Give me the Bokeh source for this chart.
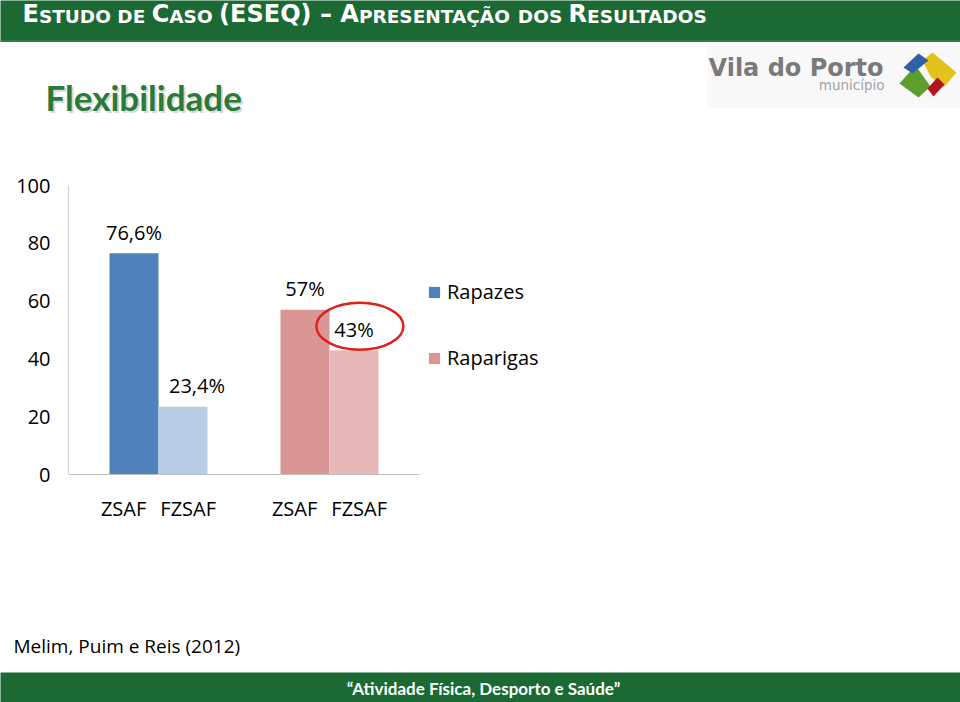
from bokeh.plotting import figure
from bokeh.layouts import column
from bokeh.models import (FactorRange, Range1d, Legend, LegendItem, ColumnDataSource, FixedTicker)
from bokeh.core.properties import value
from bokeh.embed import file_html
from bokeh.resources import INLINE

# ---------------- data ----------------
groups = ["Rapazes", "Raparigas"]
subcats = ["ZSAF", "FZSAF"]
rapazes = [76.6, 23.4]
raparigas = [57, 43]
y_ticks = [0, 20, 40, 60, 80, 100]
highlight = ("Raparigas", "FZSAF")

header_parts = ["E", "STUDO", "DE", "C", "ASO", "(ESEQ)", "\u2013", "A",
                "PRESENTA\u00c7\u00c3O", "DOS", "R", "ESULTADOS"]
title_text = "Flexibilidade"
source_text = "Melim, Puim e Reis (2012)"
footer_text = "\u201cAtividade F\u00edsica, Desporto e Sa\u00fade\u201d"
logo_name = "Vila do Porto"
logo_sub = "munic\u00edpio"

# ---------------- styles ----------------
GREEN = "#1b6a33"
blue_colors = ["#4f81bd", "#b9cde5"]
pink_colors = ["#d99694", "#e6b9b8"]
FONT = "Open Sans"
W = 960
BASE_FIX = 0.42   # text glyph alphabetic baseline correction (em)
NB = "\u00a0"
# label padding so the pair reads "ZSAF  FZSAF" like the original category labels
label_pad = {"ZSAF": ("", NB * 4), "FZSAF": (NB * 2, "")}


def fmt(v):
    return ("%g" % v).replace(".", ",") + "%"


def disp(s):
    a, b = label_pad.get(s, ("", ""))
    return a + s + b


def deco(h, bg="white"):
    f = figure(width=W, height=h, x_range=Range1d(0, W), y_range=Range1d(h, 0),
               output_backend="svg", toolbar_location=None, min_border=0,
               x_axis_type=None, y_axis_type=None)
    f.frame_align = False
    f.background_fill_color = bg
    f.border_fill_color = bg
    f.outline_line_color = None
    f.grid.visible = False
    return f


def txt(f, x, y, s, size, color="black", bold=False, align="left", alpha=1.0, font=FONT):
    f.text(x=[x], y=[y - BASE_FIX * size], text=[s], text_font=value(font),
           text_font_size="%gpx" % size,
           text_font_style="bold" if bold else "normal", text_color=color,
           text_alpha=alpha, text_align=align, text_baseline="alphabetic")


# ---------------- header (y 0-42) ----------------
hdr = deco(42, GREEN)
BIG, SMALL = 24, 18.5
hdr_x = [22, 38.4, 116.8, 151.2, 168.8, 218.6, 319.4, 339.8, 358.4, 517.3, 568.1, 586.6]
hdr_size = [BIG, SMALL, SMALL, BIG, SMALL, BIG, BIG, BIG, SMALL, SMALL, BIG, SMALL]
for s, x, sz in zip(header_parts, hdr_x, hdr_size):
    txt(hdr, x, 24, s, sz, "white", bold=True, font="DejaVu Sans")
hdr.segment(x0=[0], x1=[W], y0=[40.5], y1=[40.5], line_color="#4d8a5e", line_width=1)

# ---------------- title + logo (y 42-160) ----------------
top = deco(118)
Y0 = 42
txt(top, 47, 113 - Y0, title_text, 35, "#9a9a9a", bold=True, alpha=0.4, font="Lato")
txt(top, 45, 111 - Y0, title_text, 35, "#2a7b3b", bold=True, font="Lato")
top.quad(left=[707], right=[960], top=[45 - Y0], bottom=[107 - Y0],
         fill_color="#f8f8f8", line_color=None)
txt(top, 708, 78 - Y0, logo_name, 24, "#7a7a7a", bold=True, font="DejaVu Sans")
txt(top, 884, 90 - Y0, logo_sub, 13.5, "#a3a3a3", align="right", font="DejaVu Sans")
icon_shapes = [
    ([922, 932, 956, 943, 930], [60, 52, 72, 87, 76], "#e2c21c"),   # yellow
    ([899, 915, 930, 918], [83, 65, 86, 97], "#5e9e2c"),            # green
    ([903, 918, 928, 912], [67, 53, 60, 73], "#2f60a8"),            # blue
    ([927, 937, 944, 933], [88, 77, 84, 96], "#b0151c"),            # red
]
top.patches(xs=[s[0] for s in icon_shapes], ys=[[y - Y0 for y in s[1]] for s in icon_shapes],
            fill_color=[s[2] for s in icon_shapes], line_color=None)

# ---------------- chart (y 160-560) ----------------
CH = 400
FL, FR, FT, FB = 68, 419, 185 - 160, 474 - 160
factors = [(g, disp(s)) for g in groups for s in subcats]
p = figure(width=None, height=None, frame_width=FR - FL, frame_height=FB - FT,
           output_backend="svg", toolbar_location=None,
           x_range=FactorRange(factors=factors, factor_padding=0.0, group_padding=1.49,
                               range_padding=0.837, range_padding_units="absolute"),
           y_range=Range1d(0, 100),
           min_border_left=FL, min_border_right=0,
           min_border_top=FT, min_border_bottom=CH - FB)
p.frame_align = False
p.background_fill_color = "white"
p.border_fill_color = "white"
p.outline_line_color = None
p.xgrid.grid_line_color = None
p.ygrid.grid_line_color = None

src_b = ColumnDataSource(dict(x=[(groups[0], disp(s)) for s in subcats], top=rapazes,
                              color=blue_colors, label=[fmt(v) for v in rapazes], dx=[0, 14]))
src_g = ColumnDataSource(dict(x=[(groups[1], disp(s)) for s in subcats], top=raparigas,
                              color=pink_colors, label=[fmt(v) for v in raparigas], dx=[0, 0]))

r1 = p.vbar(x="x", top="top", width=1.0, source=src_b, fill_color="color", line_color=None)
r2 = p.vbar(x="x", top="top", width=1.0, source=src_g, fill_color="color", line_color=None)

for src in (src_b, src_g):
    p.text(x="x", y="top", text="label", source=src, x_offset="dx", y_offset=-21,
           text_align="center", text_baseline="alphabetic", text_font=value(FONT),
           text_font_size="20px", text_color="black")

# highlight ellipse around the 43% label
p.ellipse(x=[(highlight[0], disp(highlight[1]), 0.12)], y=[raparigas[1] + 8.3],
          width=87, height=47, width_units="screen", height_units="screen",
          fill_color=None, line_color="#e0201c", line_width=2.5)

yax = p.yaxis[0]
yax.ticker = FixedTicker(ticks=y_ticks)
yax.major_tick_line_color = None
yax.minor_tick_line_color = None
yax.major_tick_out = 0
yax.major_tick_in = 0
yax.minor_tick_out = 0
yax.axis_line_color = "#d0d0d0"
yax.major_label_standoff = 18
yax.major_label_text_font = FONT
yax.major_label_text_font_size = "20px"
yax.major_label_text_color = "black"

xax = p.xaxis[0]
xax.major_tick_line_color = None
xax.minor_tick_line_color = None
xax.major_tick_out = 0
xax.major_tick_in = 0
xax.axis_line_color = "#bfbfbf"
xax.major_label_standoff = 20
xax.major_label_text_font = FONT
xax.major_label_text_font_size = "20px"
xax.major_label_text_color = "black"
xax.group_text_color = None
xax.group_text_font_size = "1px"
xax.separator_line_color = None

legend = Legend(items=[LegendItem(label=groups[0], renderers=[r1], index=0),
                       LegendItem(label=groups[1], renderers=[r2], index=0)],
                location=(8, 103), orientation="vertical",
                glyph_width=14, glyph_height=14, label_standoff=6,
                label_text_font=FONT, label_text_font_size="20px", label_text_color="black",
                spacing=39, padding=0, margin=0,
                border_line_color=None, background_fill_alpha=0)
p.add_layout(legend, "right")

# ---------------- source (y 560-672) ----------------
bot = deco(112)
txt(bot, 13, 653 - 560, source_text, 19)

# ---------------- footer (y 672-702) ----------------
ftr = deco(30, GREEN)
txt(ftr, 483, 23, footer_text, 17, "white", bold=True, align="center", font="Lato")

page = column(hdr, top, p, bot, ftr, spacing=0)
open("out.html", "w").write(file_html(page, INLINE))
